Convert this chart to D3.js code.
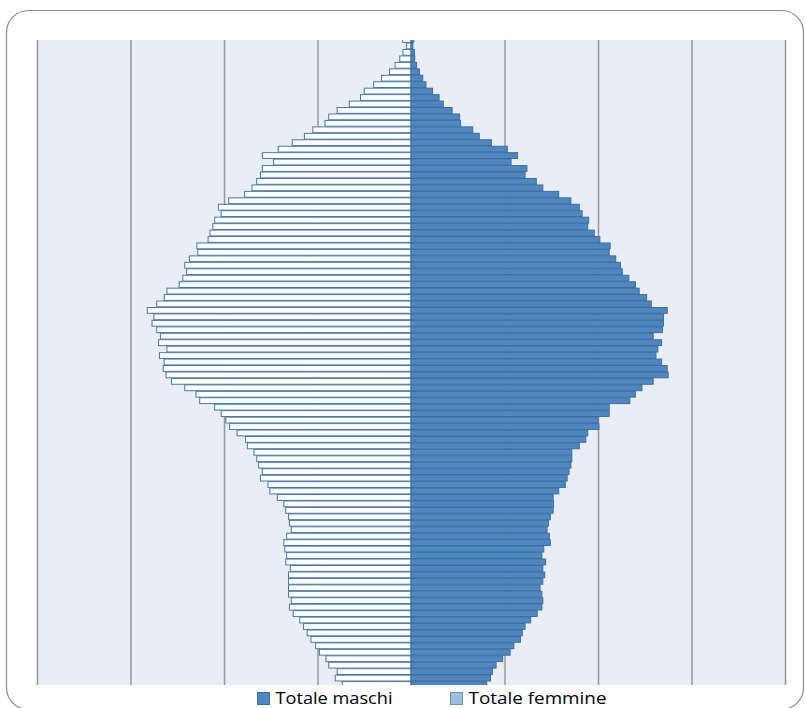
<!DOCTYPE html>
<html>
<head>
<meta charset="utf-8">
<script src="https://cdn.jsdelivr.net/npm/d3@7"></script>
<style>
  html, body { margin: 0; padding: 0; background: #ffffff; }
  svg { display: block; }
</style>
</head>
<body>
<svg id="chart" width="805" height="708"></svg>
<script>
// Età (dall'alto verso il basso: 100 ... 0)
const eta = ["100","99","98","97","96","95","94","93","92","91","90","89","88","87","86","85","84","83","82","81",
  "80","79","78","77","76","75","74","73","72","71","70","69","68","67","66","65","64","63","62","61",
  "60","59","58","57","56","55","54","53","52","51","50","49","48","47","46","45","44","43","42","41",
  "40","39","38","37","36","35","34","33","32","31","30","29","28","27","26","25","24","23","22","21",
  "20","19","18","17","16","15","14","13","12","11","10","9","8","7","6","5","4","3","2","1","0"];

// Totale femmine (stesso ordine di eta)
const totaleFemmine = [9,5,8.5,12,17,23,31.5,40,50,54,
  66,79,88,92,105,114,127,142,159,147,
  159,161,165,170,178,195,206,203,210,212,
  215,217,229,228,237,242,240,244,248,261,
  264,272,282,275,277,272,268,270,261,269,
  264,265,262,256,242,230,226,210,203,198,
  194,186,177,175,168,165,163,159,161,153,
  151,143,136,134,131,130,128,133,136,135,
  133,134,129,131,131,131,131,128,130,126,
  119,115,111,107,102,98,91,88,79,81,73.5];

// Totale maschi (stesso ordine di eta)
const totaleMaschi = [3,2,3.7,4,6,9,12.6,16,23,30,
  34.5,44,52,53,66,73,86,103,114,107,
  124,122,134,141,158,171,180,183,190,189,
  196,202,213,212,219,224,226,233,240,244,
  252,257,274,270,270,269,259,268,264,262,
  268,274,275,259,247,240,234,212,212,200,
  201,189,187,180,172,172,171,169,167,165,
  158,152,152.5,152,149,147,145.5,148,149,142,
  140,144,141,143,141,138,140,141,140,135,
  128,122,119,117,110,106,98,91,87,85,81];

const gridTicks = [-400,-300,-200,-100,0,100,200,300,400];
const legendLabels = ["Totale maschi", "Totale femmine"];

const svg = d3.select("#chart");

// outer rounded frame
svg.append("rect")
  .attr("x", 6.5).attr("y", 10.5)
  .attr("width", 797).attr("height", 699)
  .attr("rx", 22).attr("ry", 22)
  .attr("fill", "#ffffff")
  .attr("stroke", "#8c8c8c").attr("stroke-width", 1.2);

const plot = { left: 37, right: 785, top: 40, bottom: 685 };

svg.append("rect")
  .attr("x", plot.left).attr("y", plot.top)
  .attr("width", plot.right - plot.left).attr("height", plot.bottom - plot.top)
  .attr("fill", "#e9edf6");

const x = d3.scaleLinear().domain([-400, 400]).range([plot.left, plot.right]);
const y = d3.scaleBand().domain(eta).range([36.25, 687.75]).paddingInner(0.1).paddingOuter(0.05);

// vertical gridlines
const gAxis = svg.append("g")
  .attr("transform", `translate(0,${plot.bottom})`)
  .call(d3.axisBottom(x).tickValues(gridTicks).tickFormat("").tickSize(-(plot.bottom - plot.top)).tickSizeOuter(0));
gAxis.select(".domain").remove();
gAxis.selectAll(".tick line").attr("stroke", "#979797").attr("stroke-width", 1.5);

svg.append("defs").append("clipPath").attr("id", "clip")
  .append("rect")
  .attr("x", plot.left).attr("y", plot.top)
  .attr("width", plot.right - plot.left).attr("height", plot.bottom - plot.top);

const bars = svg.append("g").attr("clip-path", "url(#clip)");

bars.selectAll("rect.f").data(eta).join("rect")
  .attr("class", "f")
  .attr("x", (d, i) => x(-totaleFemmine[i]))
  .attr("y", d => y(d))
  .attr("width", (d, i) => x(0) - x(-totaleFemmine[i]))
  .attr("height", y.bandwidth())
  .attr("fill", "#ffffff")
  .attr("stroke", "#4a77a7").attr("stroke-width", 1);

bars.selectAll("rect.m").data(eta).join("rect")
  .attr("class", "m")
  .attr("x", x(0))
  .attr("y", d => y(d))
  .attr("width", (d, i) => x(totaleMaschi[i]) - x(0))
  .attr("height", y.bandwidth())
  .attr("fill", "#4f88c0")
  .attr("stroke", "#3f6c9a").attr("stroke-width", 1);

// legend
const legendColors = ["#4f88c0", "#9dbde3"];
const legendStroke = ["#3f6c9a", "#6f8fb8"];
const legendX = [257, 450];
const legendW = [117, 138];
const leg = svg.append("g");
legendLabels.forEach((lab, i) => {
  leg.append("rect")
    .attr("x", legendX[i] + 0.5).attr("y", 692.5)
    .attr("width", 12).attr("height", 12)
    .attr("fill", legendColors[i])
    .attr("stroke", legendStroke[i]).attr("stroke-width", 1);
  leg.append("text")
    .attr("x", legendX[i] + 18.5).attr("y", 703.5)
    .attr("font-family", "'Liberation Sans Narrow', 'Open Sans', 'Liberation Sans', sans-serif")
    .attr("font-size", 17)
    .attr("fill", "#000000")
    .attr("textLength", legendW[i])
    .attr("lengthAdjust", "spacingAndGlyphs")
    .text(lab);
});
</script>
</body>
</html>
